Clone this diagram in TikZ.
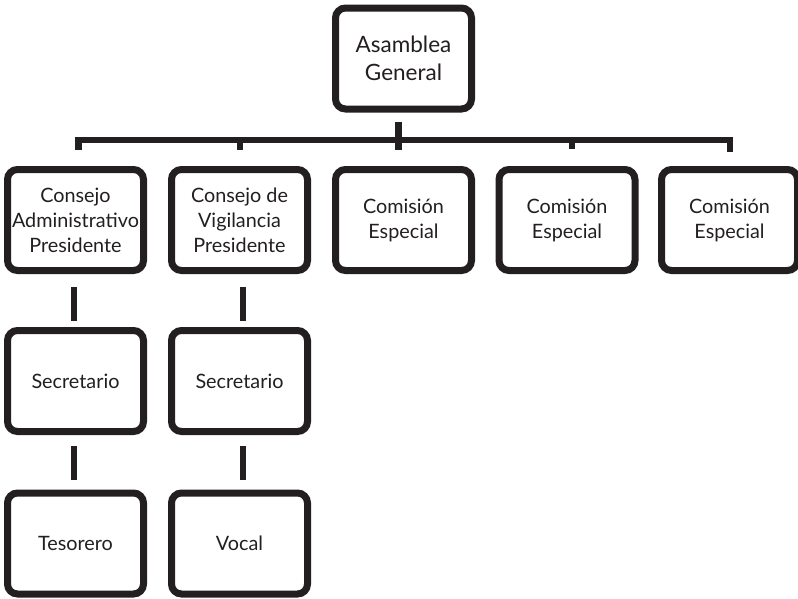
\documentclass[tikz,border=0pt]{standalone}
\usepackage{fontspec}
\setmainfont{Lato}
\definecolor{ink}{HTML}{231F20}
\begin{document}
\begin{tikzpicture}[x=1pt,y=-1pt,
  orgbox/.style={draw=ink, line width=7pt, rounded corners=10pt,
    minimum width=136pt, minimum height=101pt, inner sep=0pt,
    align=center, text=ink, font=\fontsize{19.8}{25}\selectfont},
  topbox/.style={orgbox, font=\fontsize{22.5}{28}\selectfont},
  link/.style={draw=ink, line width=6.5pt, line cap=butt, line join=miter}]
\useasboundingbox (0,0) rectangle (798,598);
% top level
\node[topbox] (asamblea) at (403.5,58.5) {Asamblea\\General};
% second level
\node[orgbox] (admin) at (75.5,220) {Consejo\\Administrativo\\Presidente};
\node[orgbox] (vigil) at (239.5,220) {Consejo de\\Vigilancia\\Presidente};
\node[orgbox] (com1) at (403.5,220) {Comisión\\Especial};
\node[orgbox] (com2) at (567,220) {Comisión\\Especial};
\node[orgbox] (com3) at (729.5,220) {Comisión\\Especial};
% third and fourth level
\node[orgbox] (secA) at (75.5,381) {Secretario};
\node[orgbox] (secV) at (239.5,381) {Secretario};
\node[orgbox] (tes) at (75.5,543.5) {Tesorero};
\node[orgbox] (vocal) at (239.5,543.5) {Vocal};
% distribution bar
\coordinate (barL) at (78.5,140);
\coordinate (barR) at (730,140);
\coordinate (dropL) at (78.5,150);
\coordinate (dropR) at (730,152);
\coordinate (tapTop) at (398.5,122);
\coordinate (tapBot) at (398.5,150);
\coordinate (tapV) at (240,140);
\coordinate (tapVd) at (240,150);
\coordinate (tapC) at (572,140);
\coordinate (tapCd) at (572,149);
\draw[link] (dropL) -- (barL) -- (barR) -- (dropR);
\draw[link] (tapTop) -- (tapBot);
\draw[link] (tapV) -- (tapVd);
\draw[link] (tapC) -- (tapCd);
% vertical links inside each branch
\draw[link, shorten <=13pt, shorten >=6pt] ([xshift=-1.5pt]admin.south) -- ([xshift=-1.5pt]secA.north);
\draw[link, shorten <=11pt, shorten >=10pt] ([xshift=-1.5pt]secA.south) -- ([xshift=-1.5pt]tes.north);
\draw[link, shorten <=13pt, shorten >=6pt] ([xshift=3.5pt]vigil.south) -- ([xshift=3.5pt]secV.north);
\draw[link, shorten <=11pt, shorten >=10pt] ([xshift=3.5pt]secV.south) -- ([xshift=3.5pt]vocal.north);
\end{tikzpicture}
\end{document}
